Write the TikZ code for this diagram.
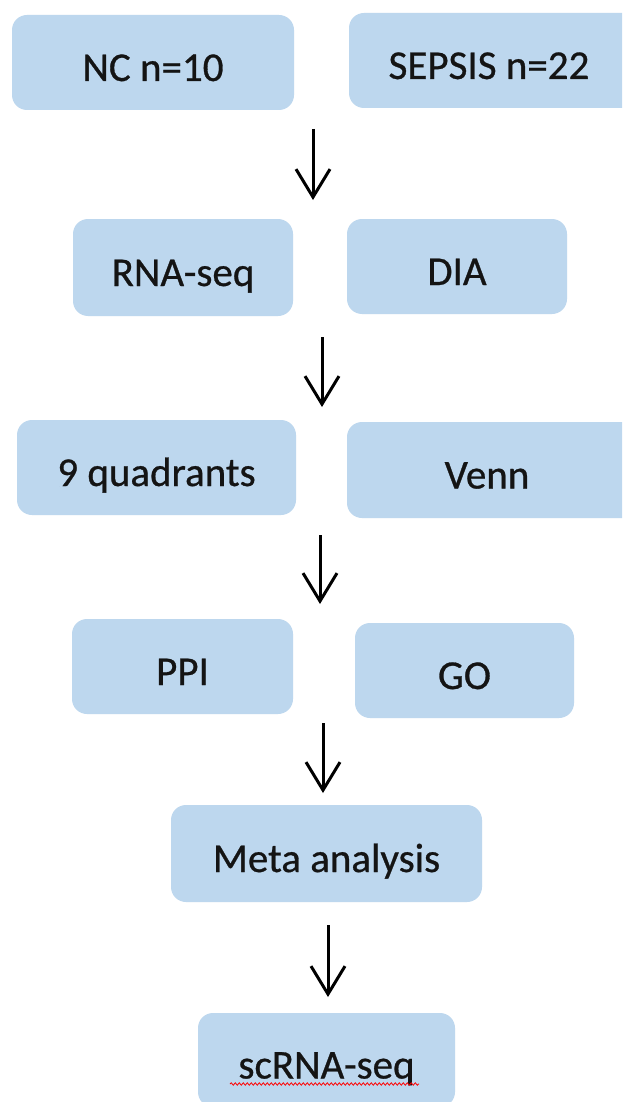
\documentclass[tikz,border=0pt]{standalone}
\usepackage{fontspec}
\setmainfont{Carlito}[FakeBold=0.7]
\usetikzlibrary{arrows.meta,decorations.pathmorphing}
\definecolor{boxblue}{HTML}{BDD7EE}
\begin{document}
\begin{tikzpicture}[x=1pt,y=-1pt,
  box/.style={fill=boxblue, draw=none, rounded corners=15pt, font=\fontsize{41}{46}\selectfont,
    text=black!92, text height=37pt, text depth=0pt, inner sep=0pt, anchor=center},
  flowarrow/.style={line width=3pt, -{Straight Barb[length=28pt,width=34pt,line width=3pt]}}]
\useasboundingbox (0,0) rectangle (622,1102);
\clip (0,0) rectangle (622,1102);
\fill[white] (0,0) rectangle (622,1102);
% row 1
\node[box, minimum width=282pt, minimum height=95pt] (nc) at (153,62.5) {NC n=10};
\node[box, minimum width=300pt, minimum height=95pt] (sepsis) at (499,60.5) {\hspace*{-20pt}SEPSIS n=22};
% row 2
\node[box, minimum width=220pt, minimum height=97pt] (rna) at (183,267.5) {RNA-seq};
\node[box, minimum width=220pt, minimum height=95pt] (dia) at (457,266.5) {DIA};
% row 3
\node[box, minimum width=279pt, minimum height=95pt] (quad) at (156.5,467.5) {9 quadrants};
\node[box, minimum width=300pt, minimum height=96pt] (venn) at (497,470) {\hspace*{-20pt}Venn};
% row 4
\node[box, minimum width=221pt, minimum height=95pt] (ppi) at (182.5,666.5) {PPI};
\node[box, minimum width=219pt, minimum height=95pt] (go) at (464.5,670.5) {GO};
% row 5
\node[box, minimum width=311pt, minimum height=97pt] (meta) at (326.5,853.5) {Meta analysis};
% row 6
\node[box, minimum width=257pt, minimum height=94pt] (sc) at (326.5,1060) {scRNA-seq};
% arrows
\coordinate (a1s) at (313,129); \coordinate (a1e) at (313,200);
\coordinate (a2s) at (322,337); \coordinate (a2e) at (322,407);
\coordinate (a3s) at (320,535); \coordinate (a3e) at (320,604);
\coordinate (a4s) at (323,723); \coordinate (a4e) at (323,793);
\coordinate (a5s) at (328,925); \coordinate (a5e) at (328,997);
\draw[flowarrow] (a1s) -- (a1e);
\draw[flowarrow] (a2s) -- (a2e);
\draw[flowarrow] (a3s) -- (a3e);
\draw[flowarrow] (a4s) -- (a4e);
\draw[flowarrow] (a5s) -- (a5e);
% spell-check underline
\coordinate (u1) at (230,1084); \coordinate (u2) at (419,1084);
\draw[red, line width=0.8pt, decorate, decoration={snake, amplitude=1.2pt, segment length=4pt}] (u1) -- (u2);
\end{tikzpicture}
\end{document}
